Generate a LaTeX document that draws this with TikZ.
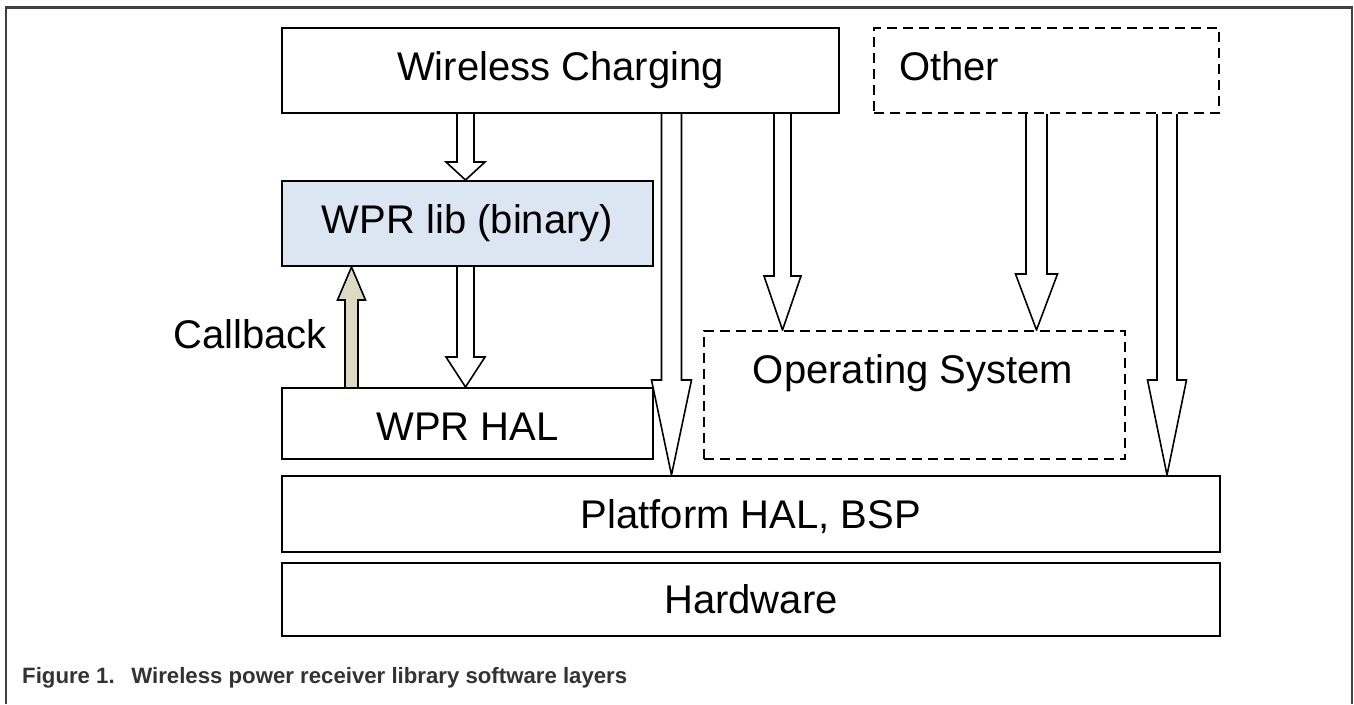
\documentclass[tikz,border=0pt]{standalone}
\usepackage{fontspec}
\setmainfont{Liberation Sans}
\usetikzlibrary{calc,backgrounds}

\definecolor{libblue}{HTML}{DCE6F2}
\definecolor{cbtan}{HTML}{DDD9C3}
\definecolor{framegray}{HTML}{404040}
\definecolor{captiongray}{HTML}{333333}

\tikzset{
  layer/.style={draw=black, line width=2pt, fill=white, inner sep=0pt,
    font=\fontsize{40}{48}\selectfont},
  dashedlayer/.style={layer, dash pattern=on 10pt off 6pt},
  lbl/.style={inner sep=0pt, font=\fontsize{40}{48}\selectfont},
  arrowline/.style={draw=black, line width=1.6pt, line join=miter},
}

% block arrow: [fill] {start} {end} {head length} {shaft half width} {head half width}
\newcommand\blockarrow[6][white]{%
  \coordinate (ba-base) at ($(#3)!#4!(#2)$);
  \fill[#1] ($(#2)!#5!90:(#3)$) -- ($(ba-base)!#5!90:(#3)$)
    -- ($(ba-base)!#6!90:(#3)$) -- (#3) -- ($(ba-base)!#6!-90:(#3)$)
    -- ($(ba-base)!#5!-90:(#3)$) -- ($(#2)!#5!-90:(#3)$) -- cycle;
  \draw[arrowline] ($(#2)!#5!90:(#3)$) -- ($(ba-base)!#5!90:(#3)$)
    -- ($(ba-base)!#6!90:(#3)$) -- (#3) -- ($(ba-base)!#6!-90:(#3)$)
    -- ($(ba-base)!#5!-90:(#3)$) -- ($(#2)!#5!-90:(#3)$);
}

\begin{document}
\begin{tikzpicture}[x=1pt, y=-1pt]
\useasboundingbox (0,0) rectangle (1354,704);

% figure frame (open at the bottom)
\draw[framegray, line width=2.5pt] (6,704) -- (6,7.5) -- (1352,7.5) -- (1352,704);

% software layers
\node[layer, minimum width=557pt, minimum height=85pt, text height=28.6pt, text depth=8.4pt]
  (wc) at (560.5,70.5) {Wireless Charging};
\node[dashedlayer, minimum width=345pt, minimum height=85pt] (other) at (1046.5,70.5) {};
\node[lbl, anchor=base west] (othertext) at (899,80) {Other};
\node[layer, fill=libblue, minimum width=371pt, minimum height=85pt, text height=28.6pt, text depth=8.4pt]
  (lib) at (467.5,223.5) {WPR lib (binary)};
\node[layer, minimum width=371pt, minimum height=71pt, text height=43pt, text depth=8.4pt]
  (hal) at (467.5,423.5) {WPR HAL};
\node[dashedlayer, minimum width=421pt, minimum height=128pt] (os) at (914.5,395) {};
\node[lbl, anchor=base] (ostext) at (913,383) {Operating System};
\node[layer, minimum width=938pt, minimum height=76pt, text height=37pt, text depth=8.4pt]
  (plat) at (751,514) {Platform HAL, BSP};
\node[layer, minimum width=938pt, minimum height=73pt, text height=37pt, text depth=8.4pt]
  (hw) at (751,599.5) {Hardware};

\node[lbl, anchor=base east] (cbtext) at (327,348) {Callback};

% arrow columns
\coordinate (xA) at (465.5,0);
\coordinate (xCb) at (351.5,0);
\coordinate (xB) at (671.5,0);
\coordinate (xC) at (782.5,0);
\coordinate (xD) at (1036.5,0);
\coordinate (xE) at (1167,0);

\coordinate (a1s) at (xA |- wc.south);   \coordinate (a1e) at (xA |- lib.north);
\coordinate (a2s) at (xA |- lib.south);  \coordinate (a2e) at (xA |- hal.north);
\coordinate (a3s) at (xCb |- hal.north); \coordinate (a3e) at (xCb |- lib.south);
\coordinate (a4s) at (xB |- wc.south);   \coordinate (a4e) at (xB |- plat.north);
\coordinate (a5s) at (xC |- wc.south);   \coordinate (a5e) at (xC |- os.north);
\coordinate (a6s) at (xD |- other.south); \coordinate (a6e) at (xD |- os.north);
\coordinate (a7s) at (xE |- other.south); \coordinate (a7e) at (xE |- plat.north);

\begin{scope}[on background layer]
  \fill[white] (0,0) rectangle (1354,704);
  \blockarrow{a1s}{a1e}{18pt}{8.5pt}{19.5pt}
  \blockarrow{a2s}{a2e}{30pt}{8.5pt}{19.5pt}
  \blockarrow[cbtan]{a3s}{a3e}{33pt}{6.5pt}{14pt}
  \blockarrow{a4s}{a4e}{95pt}{10pt}{20pt}
  \blockarrow{a5s}{a5e}{54pt}{8.5pt}{18.5pt}
  \blockarrow{a6s}{a6e}{56pt}{10.5pt}{21pt}
  \blockarrow{a7s}{a7e}{95pt}{10pt}{19.5pt}
\end{scope}

% caption
\node[anchor=base west, inner sep=0pt, text=captiongray, font=\bfseries\fontsize{22.2}{26}\selectfont]
  (caption) at (22,683) {Figure 1.\hspace{0.75em}Wireless power receiver library software layers};
\end{tikzpicture}
\end{document}
